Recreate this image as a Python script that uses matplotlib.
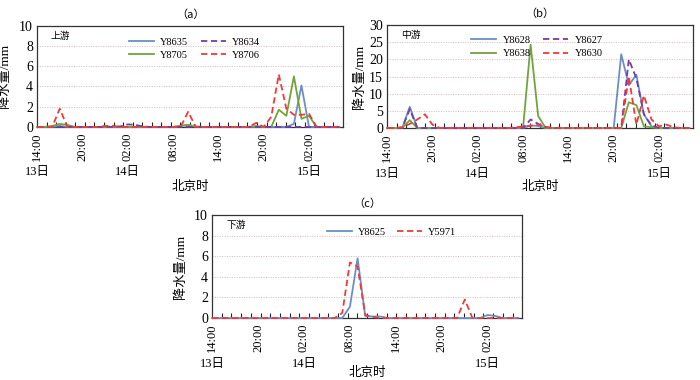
import numpy as np
import matplotlib
matplotlib.use("Agg")
import matplotlib.pyplot as plt
import matplotlib.transforms as mtransforms

plt.rcParams['font.family'] = ['Liberation Serif', 'Noto Sans CJK SC']
plt.rcParams['axes.unicode_minus'] = False

# hourly steps, 0 = 13日 14:00
hours = np.arange(41)
time_labels = ['14:00', '20:00', '02:00', '08:00', '14:00', '20:00', '02:00']
time_pos = [0, 6, 12, 18, 24, 30, 36]
day_labels = ['13日', '14日', '15日']
day_pos = [0, 12, 36]


def series(points):
    v = np.zeros(len(hours))
    for h, val in points.items():
        v[h] = val
    return v


# (a) 上游
a_Y8635 = series({3: 0.1, 19: 0.1, 20: 0.2, 21: 0.05, 34: 0.3, 35: 4.1})
a_Y8634 = series({11: 0.05, 12: 0.25, 13: 0.2, 14: 0.05})
a_Y8705 = series({2: 0.1, 3: 0.3, 4: 0.2, 19: 0.1, 20: 0.2, 29: 0.1,
                  32: 1.7, 33: 1.1, 34: 5.0, 35: 0.8, 36: 1.1})
a_Y8706 = series({3: 1.8, 9: 0.1, 10: 0.1, 20: 1.5, 29: 0.4, 31: 1.0,
                  32: 5.2, 33: 1.8, 34: 1.2, 35: 1.2, 36: 1.3})

# (b) 中游
b_Y8628 = series({3: 6.2, 19: 0.8, 20: 0.6, 31: 21.5, 32: 12.5, 33: 15.5,
                  34: 4.0, 35: 0.5})
b_Y8627 = series({3: 5.5, 19: 2.5, 20: 1.2, 21: 0.3, 32: 20.0, 33: 14.5,
                  34: 4.0, 35: 0.8})
b_Y8638 = series({3: 2.3, 19: 24.3, 20: 3.5, 32: 7.5, 33: 6.7, 34: 0.5,
                  35: 0.2})
b_Y8630 = series({2: 0.3, 3: 1.2, 4: 2.5, 5: 4.0, 6: 1.0, 17: 0.2, 18: 0.5,
                  19: 0.6, 20: 1.0, 21: 0.3, 32: 15.0, 33: 1.0, 34: 9.5,
                  35: 2.5, 36: 0.5, 37: 1.0, 38: 0.2})

# (c) 下游
c_Y8625 = series({18: 1.1, 19: 5.8, 20: 0.2, 21: 0.15, 22: 0.15, 36: 0.3,
                  37: 0.2})
c_Y5971 = series({17: 0.5, 18: 5.4, 19: 5.0, 20: 0.3, 21: 0.1, 33: 1.8})

BLUE = '#6a8fc7'
PURPLE = '#7a3aa6'
GREEN = '#72a43e'
RED = '#f03a3a'

fig = plt.figure(figsize=(7, 3.8), dpi=100)
ax_a = fig.add_axes([0.053, 0.666, 0.437, 0.266])
ax_b = fig.add_axes([0.553, 0.663, 0.437, 0.271])
ax_c = fig.add_axes([0.303, 0.163, 0.443, 0.271])

XMAX = 40.5


def style(ax, ymax, ystep, title, region, ylab_x):
    ax.set_xlim(0, XMAX)
    ax.set_ylim(0, ymax)
    ax.set_yticks(np.arange(0, ymax + 0.1, ystep))
    ax.tick_params(axis='y', length=0, labelsize=10, pad=3)
    ax.set_xticks(time_pos)
    ax.set_xticklabels(time_labels, rotation=90, fontsize=9)
    ax.tick_params(axis='x', which='major', length=0, pad=4)
    ax.set_xticks(np.linspace(0, XMAX, 33)[:-1], minor=True)
    ax.tick_params(axis='x', which='minor', direction='in', length=3.5,
                   width=0.8, color='#222222')
    for y in np.arange(ystep, ymax, ystep):
        ax.axhline(y, color='#d9b8b8', lw=0.7, ls=(0, (1, 1.5)), zorder=0)
    for s in ax.spines.values():
        s.set_color('#333333')
        s.set_linewidth(0.9)
    ax.set_title(title, fontsize=8, pad=6, family=['Noto Sans CJK SC'])
    ax.set_ylabel('降水量/mm', fontsize=9.5, labelpad=2)
    ax.yaxis.set_label_coords(ylab_x, 0.5)
    ax.text(0.045, 0.9, region, transform=ax.transAxes, fontsize=7,
            family=['Noto Sans CJK SC'], va='center')
    trans = mtransforms.blended_transform_factory(ax.transData, ax.transAxes)
    for d, p in zip(day_labels, day_pos):
        ax.text(p, -0.45, d, transform=trans, ha='center', va='center',
                fontsize=9)


def draw(ax, x, y, color, dashed, label):
    ls = (0, (3.5, 2)) if dashed else '-'
    ax.plot(x, y, color=color, lw=1.3, ls=ls, label=label, clip_on=False,
            zorder=3)


style(ax_a, 10, 2, '（a）', '上游', -0.085)
draw(ax_a, hours, a_Y8635, BLUE, False, 'Y8635')
draw(ax_a, hours, a_Y8705, GREEN, False, 'Y8705')
draw(ax_a, hours, a_Y8634, PURPLE, True, 'Y8634')
draw(ax_a, hours, a_Y8706, RED, True, 'Y8706')
ax_a.legend(ncol=2, loc='upper left', bbox_to_anchor=(0.27, 0.98),
            frameon=False, fontsize=7.5, handlelength=2.4, columnspacing=1.2,
            handletextpad=0.6, labelspacing=0.4)
ax_a.text(0.5, -0.59, '北京时', transform=ax_a.transAxes, ha='center',
          va='center', fontsize=9, family=['Noto Sans CJK SC'])

style(ax_b, 30, 5, '（b）', '中游', -0.07)
draw(ax_b, hours, b_Y8628, BLUE, False, 'Y8628')
draw(ax_b, hours, b_Y8638, GREEN, False, 'Y8638')
draw(ax_b, hours, b_Y8627, PURPLE, True, 'Y8627')
draw(ax_b, hours, b_Y8630, RED, True, 'Y8630')
ax_b.legend(ncol=2, loc='upper left', bbox_to_anchor=(0.245, 0.99),
            frameon=False, fontsize=7.5, handlelength=2.4, columnspacing=1.2,
            handletextpad=0.6, labelspacing=0.4)
ax_b.text(0.5, -0.57, '北京时', transform=ax_b.transAxes, ha='center',
          va='center', fontsize=9, family=['Noto Sans CJK SC'])

style(ax_c, 10, 2, '（c）', '下游', -0.08)
draw(ax_c, hours, c_Y8625, BLUE, False, 'Y8625')
draw(ax_c, hours, c_Y5971, RED, True, 'Y5971')
ax_c.legend(ncol=2, loc='upper left', bbox_to_anchor=(0.34, 0.97),
            frameon=False, fontsize=7.5, handlelength=2.4, columnspacing=1.0,
            handletextpad=0.6)
ax_c.text(0.5, -0.53, '北京时', transform=ax_c.transAxes, ha='center',
          va='center', fontsize=9, family=['Noto Sans CJK SC'])

fig.savefig('out.png', dpi=100)
